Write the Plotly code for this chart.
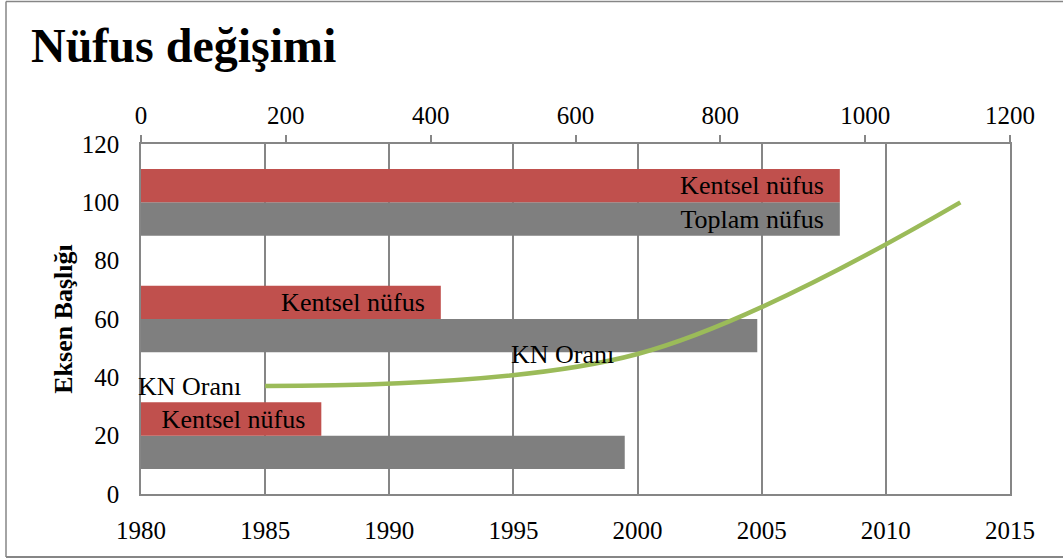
import plotly.graph_objects as go

# ---- data ----
bar_pos = [20, 60, 100]                 # positions of the three bar groups on the left axis
toplam_nufus = [668, 851, 965]          # grey bars (top axis 0-1200)
kentsel_nufus = [249, 414, 965]         # red bars (top axis 0-1200)
toplam_labels = ["", "", "Toplam nüfus"]
kentsel_labels = ["Kentsel nüfus", "Kentsel nüfus", "Kentsel nüfus"]

kn_years = [1985, 2000, 2013]           # bottom axis
kn_orani = [37, 48, 100]                # left axis
kn_labels = ["KN Oranı", "KN Oranı", ""]

title_text = "Nüfus değişimi"
y_title = "Eksen Başlığı"

# ---- style ----
FONT = "Liberation Serif"
GRID = "#868686"
RED = "#C0504D"
GREY = "#7F7F7F"
GREEN = "#9BBB59"
BW = 40 / 3.5  # bar thickness (gap width 150%)
PAD = "\u00a0\u00a0"  # inner padding after bar labels


def padded(labels):
    return [t + PAD if t else "" for t in labels]


fig = go.Figure()
fig.add_trace(go.Bar(
    y=bar_pos, x=toplam_nufus, orientation="h", xaxis="x", yaxis="y",
    width=BW, offset=-BW, marker=dict(color=GREY, line=dict(width=0)),
    text=padded(toplam_labels), textposition="inside", insidetextanchor="end",
    textangle=0, constraintext="none",
    textfont=dict(family=FONT, size=26, color="black"), name="Toplam nüfus",
))
fig.add_trace(go.Bar(
    y=bar_pos, x=kentsel_nufus, orientation="h", xaxis="x", yaxis="y",
    width=BW, offset=0, marker=dict(color=RED, line=dict(width=0)),
    text=padded(kentsel_labels), textposition="inside", insidetextanchor="end",
    textangle=0, constraintext="none",
    textfont=dict(family=FONT, size=26, color="black"), name="Kentsel nüfus",
))
fig.add_trace(go.Scatter(
    x=kn_years, y=kn_orani, xaxis="x2", yaxis="y", mode="lines",
    line=dict(color=GREEN, width=4.5, shape="spline", smoothing=1),
    name="KN Oranı",
))

annotations = []
for xv, yv, t in zip(kn_years, kn_orani, kn_labels):
    if t:
        annotations.append(dict(
            x=xv, y=yv, xref="x2", yref="y", text=t, showarrow=False,
            xanchor="right", yanchor="middle", xshift=-22,
            font=dict(family=FONT, size=26, color="black"),
        ))

W, H = 1063, 559
L, R, T, B = 141, 53, 144, 65
pw, ph = W - L - R, H - T - B


def px_x(p):
    return (p - L) / pw


def px_y(p):
    return (H - B - p) / ph


shapes = [
    dict(type="line", xref="paper", yref="paper", x0=px_x(6), x1=px_x(1070),
         y0=px_y(1.5), y1=px_y(1.5), line=dict(color=GRID, width=1.5)),
    dict(type="line", xref="paper", yref="paper", x0=px_x(6), x1=px_x(1070),
         y0=px_y(557), y1=px_y(557), line=dict(color=GRID, width=2)),
    dict(type="line", xref="paper", yref="paper", x0=px_x(6), x1=px_x(6),
         y0=px_y(1.5), y1=px_y(557), line=dict(color=GRID, width=1.5)),
]

fig.update_layout(
    width=W, height=H,
    margin=dict(l=L, r=R, t=T, b=B, autoexpand=False),
    paper_bgcolor="white", plot_bgcolor="white",
    showlegend=False, barmode="overlay",
    font=dict(family=FONT, size=25, color="black"),
    title=dict(text="<b>" + title_text + "</b>", xref="container", yref="container",
               x=31 / W, xanchor="left", y=1 - 45 / H, yanchor="middle",
               font=dict(family=FONT, size=48, color="black")),
    xaxis=dict(range=[0, 1200], dtick=200, side="top", anchor="y",
               showgrid=False, zeroline=False, showline=True, linecolor=GRID, linewidth=1.5,
               ticks="outside", ticklen=7, tickcolor=GRID, tickwidth=1.5,
               ticklabelstandoff=1,
               tickfont=dict(family=FONT, size=25, color="black")),
    xaxis2=dict(range=[1980, 2015], dtick=5, overlaying="x", side="bottom", anchor="y",
                showgrid=True, gridcolor=GRID, gridwidth=1.5, zeroline=False,
                showline=True, linecolor=GRID, linewidth=1.5, ticks="",
                ticklabelstandoff=13,
                tickfont=dict(family=FONT, size=25, color="black")),
    yaxis=dict(range=[0, 120], dtick=20, showgrid=False, zeroline=False,
               showline=True, mirror=True, linecolor=GRID, linewidth=1.5, ticks="",
               ticklabelstandoff=15,
               tickfont=dict(family=FONT, size=25, color="black"),
               title=dict(text="<b>" + y_title + "</b>", standoff=2,
                          font=dict(family=FONT, size=26, color="black"))),
    annotations=annotations, shapes=shapes,
)

fig.write_html(
    "out.html",
    config={"displayModeBar": False},
    post_script="document.body.style.margin='0px';document.body.style.overflow='hidden';",
)
